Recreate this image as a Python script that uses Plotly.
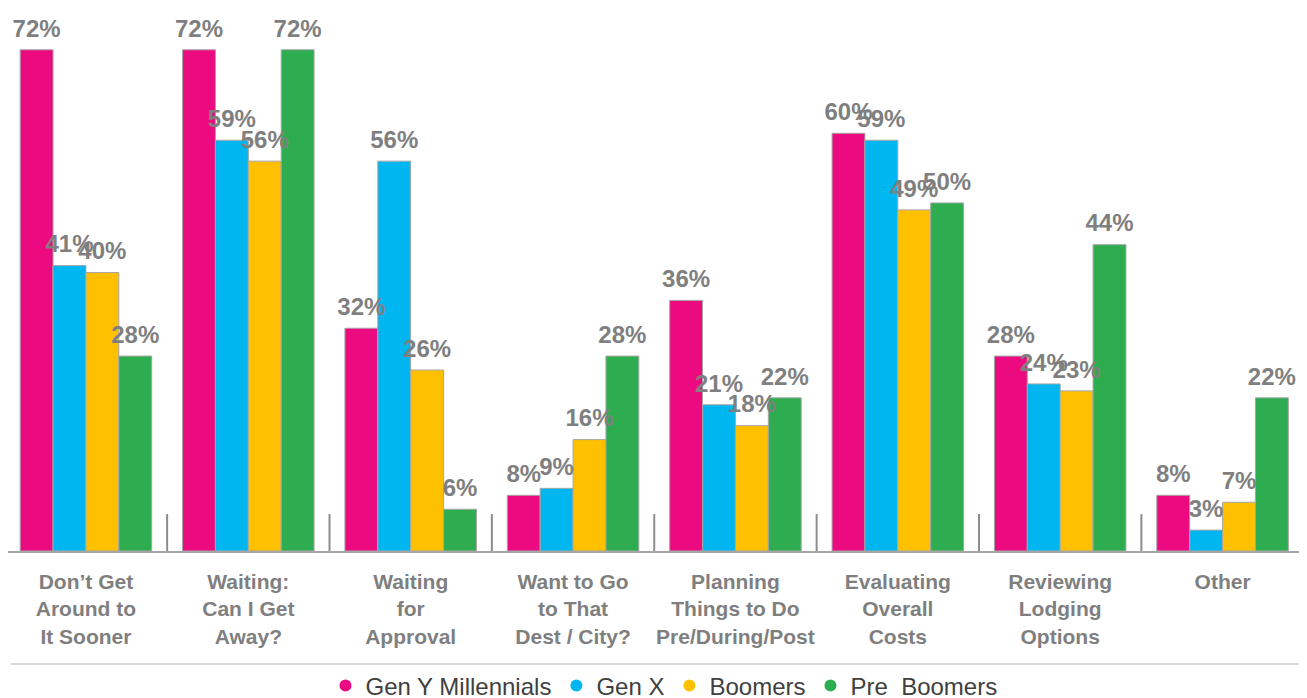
import plotly.graph_objects as go

# category labels (3 lines each, as on the slide)
categories = [
    "Don’t Get<br>Around to<br>It Sooner",
    "Waiting:<br>Can I Get<br>Away?",
    "Waiting<br>for<br>Approval",
    "Want to Go<br>to That<br>Dest / City?",
    "Planning<br>Things to Do<br>Pre/During/Post",
    "Evaluating<br>Overall<br>Costs",
    "Reviewing<br>Lodging<br>Options",
    "Other",
]

series_names = ["Gen Y Millennials", "Gen X", "Boomers", "Pre  Boomers"]
gen_y = [72, 72, 32, 8, 36, 60, 28, 8]
gen_x = [41, 59, 56, 9, 21, 59, 24, 3]
boomers = [40, 56, 26, 16, 18, 49, 23, 7]
pre_boomers = [28, 72, 6, 28, 22, 50, 44, 22]

colors = ["#EC0A80", "#00B6F0", "#FFC000", "#2EAD50"]
all_values = [gen_y, gen_x, boomers, pre_boomers]

# the page body adds an 8px margin, so the figure is a bit smaller than the window
W, H = 1299, 690
plot_bottom = 543
ymax = 78.0

fig = go.Figure()
x_idx = list(range(len(categories)))

for name, vals, col in zip(series_names, all_values, colors):
    fig.add_trace(go.Bar(
        x=x_idx, y=vals, name=name,
        marker=dict(color=col, line=dict(color="#a6a6a6", width=1)),
        showlegend=False, offsetgroup=name, alignmentgroup="g",
    ))

# value labels, grouped like the bars
for name, vals in zip(series_names, all_values):
    fig.add_trace(go.Scatter(
        x=x_idx, y=vals, mode="markers+text",
        text=[f"{v}%" for v in vals], textposition="top center",
        textfont=dict(family="Liberation Sans, Arial", size=24, color="#7f7f7f", weight="bold"),
        marker=dict(size=10, color="rgba(0,0,0,0)"),
        offsetgroup=name, alignmentgroup="s", orientation="v",
        showlegend=False, hoverinfo="skip", cliponaxis=False,
    ))

# legend entries with round markers, kept on a hidden axis
for name, col in zip(series_names, colors):
    fig.add_trace(go.Scatter(
        x=[None], y=[None], mode="markers", name=name,
        marker=dict(symbol="circle", size=12, color=col),
        xaxis="x2", yaxis="y2",
    ))

# tick separators between category groups
shapes = []
for i in range(len(categories) - 1):
    shapes.append(dict(type="line", xref="x", yref="y", x0=i + 0.5, x1=i + 0.5,
                       y0=-1.6, y1=5.3, line=dict(color="#8c8c8c", width=2)))
# thin rule above the legend
rule_y = -(656 - plot_bottom) / plot_bottom
shapes.append(dict(type="line", xref="paper", yref="paper", x0=0.002, x1=1,
                   y0=rule_y, y1=rule_y, line=dict(color="#d9d9d9", width=2)))

fig.update_layout(
    width=W, height=H,
    margin=dict(l=0, r=0, t=0, b=H - plot_bottom, autoexpand=False),
    paper_bgcolor="white", plot_bgcolor="white",
    barmode="group", bargap=0.19, bargroupgap=0,
    scattermode="group", scattergap=0.19,
    shapes=shapes,
    xaxis=dict(
        tickmode="array", tickvals=x_idx, ticktext=categories,
        range=[-0.48, len(categories) - 0.48],
        showline=True, linecolor="#a6a6a6", linewidth=1.5,
        ticks="", showgrid=False, zeroline=False, automargin=False,
        tickfont=dict(family="Liberation Sans, Arial", size=21, color="#7f7f7f", weight="bold"),
        ticklabelstandoff=11,
    ),
    yaxis=dict(range=[0, ymax], visible=False, showgrid=False, zeroline=False, automargin=False),
    xaxis2=dict(overlaying="x", visible=False),
    yaxis2=dict(overlaying="y", visible=False),
    legend=dict(
        orientation="h", x=0.505, xanchor="center",
        y=-(678 - plot_bottom) / plot_bottom, yanchor="middle",
        bgcolor="rgba(0,0,0,0)",
        font=dict(family="Liberation Sans Narrow, Arial Narrow, Liberation Sans", size=24, color="#404040"),
        itemwidth=30,
    ),
)

fig.write_html("out.html")
